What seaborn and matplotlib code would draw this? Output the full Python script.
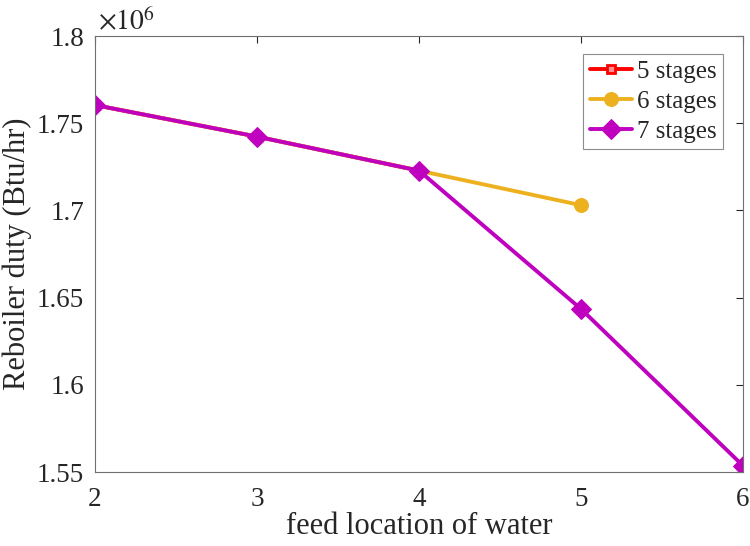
import pandas as pd
import numpy as np
import matplotlib
matplotlib.use("Agg")
import matplotlib.pyplot as plt
import seaborn as sns
from matplotlib.ticker import FuncFormatter

sns.set_theme(style="white")
plt.rcParams['font.family'] = ['Liberation Serif', 'DejaVu Serif']
plt.rcParams['mathtext.fontset'] = 'stix'

# feed location of water vs reboiler duty (Btu/hr)
feed_5 = [2, 3, 4]
duty_5 = [1.7604e6, 1.7423e6, 1.7228e6]
feed_6 = [2, 3, 4, 5]
duty_6 = [1.7604e6, 1.7423e6, 1.7228e6, 1.7030e6]
feed_7 = [2, 3, 4, 5, 6]
duty_7 = [1.7604e6, 1.7423e6, 1.7228e6, 1.6435e6, 1.5536e6]
series_names = ["5 stages", "6 stages", "7 stages"]

df = pd.concat([
    pd.DataFrame({"feed": feed_5, "duty": duty_5, "stages": series_names[0]}),
    pd.DataFrame({"feed": feed_6, "duty": duty_6, "stages": series_names[1]}),
    pd.DataFrame({"feed": feed_7, "duty": duty_7, "stages": series_names[2]}),
])

colors = {"5 stages": "#FF0000", "6 stages": "#EDB120", "7 stages": "#BF00BF"}
markers = {"5 stages": "s", "6 stages": "o", "7 stages": "D"}
msize = {"5 stages": 6, "6 stages": 10, "7 stages": 10}

fig = plt.figure(figsize=(7.5, 5.46), dpi=100)
ax = fig.add_axes([95/750, 1-472/546, 648/750, 436/546])

for name in series_names:
    sub = df[df["stages"] == name]
    kw = dict(markerfacecolor=colors[name])
    if name == "5 stages":
        kw = dict(markerfacecolor="#FF9090", markeredgewidth=2)
    sns.lineplot(data=sub, x="feed", y="duty", ax=ax, color=colors[name],
                 marker=markers[name], markersize=msize[name], linewidth=2.8,
                 label=name, markeredgecolor=colors[name], **kw)

ax.set_xlim(2, 6)
ax.set_ylim(1.55e6, 1.8e6)
ax.set_xticks([2, 3, 4, 5, 6])
ax.set_yticks(np.arange(1.55e6, 1.80001e6, 0.05e6))
ax.yaxis.set_major_formatter(FuncFormatter(lambda v, _: f"{v/1e6:g}"))
ax.tick_params(direction="in", length=5, width=0.8, colors="#262626",
               labelsize=19.5, top=True, right=True)
ax.tick_params(axis="x", pad=11)
ax.tick_params(axis="y", pad=8)
for s in ax.spines.values():
    s.set_color("#707070")
    s.set_linewidth(0.8)

ax.set_xlabel("feed location of water", fontsize=22, color="#262626", labelpad=0)
ax.set_ylabel("Reboiler duty (Btu/hr)", fontsize=22, color="#262626", labelpad=3)
ax.text(0.005, 1.0, r"$\times10^{6}$", transform=ax.transAxes, fontsize=20,
        color="#262626", ha="left", va="bottom")

leg = ax.legend(loc="upper right", bbox_to_anchor=(0.969, 0.958), fontsize=18,
                frameon=True, fancybox=False, handlelength=1.7,
                handletextpad=0.2, borderpad=0.25, labelspacing=0.3,
                borderaxespad=0)
leg.get_frame().set_edgecolor("#707070")
leg.get_frame().set_linewidth(0.8)

fig.savefig("out.png", dpi=100)
